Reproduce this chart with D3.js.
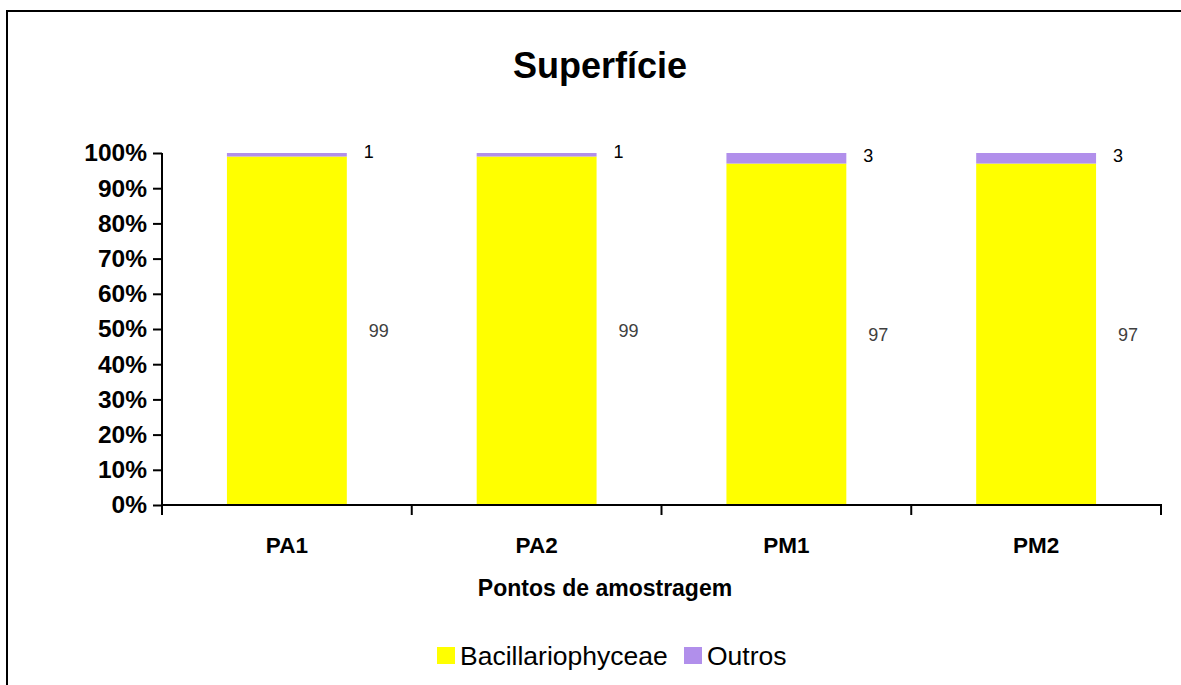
<!DOCTYPE html>
<html>
<head>
<meta charset="utf-8">
<script src="https://cdn.jsdelivr.net/npm/d3@7/dist/d3.min.js"></script>
<style>
  html, body { margin: 0; padding: 0; background: #fff; }
  svg { display: block; font-family: "Liberation Sans", Arial, sans-serif; }
</style>
</head>
<body>
<svg id="chart" width="1181" height="685"></svg>
<script>
// Sampling points and composition (%) at the surface
const pontos = ["PA1", "PA2", "PM1", "PM2"];
const bacillariophyceae = [99, 99, 97, 97];
const outros = [1, 1, 3, 3];
const grupos = ["Bacillariophyceae", "Outros"];
const cores = ["#ffff00", "#b18feb"];
const yTicks = [0, 0.1, 0.2, 0.3, 0.4, 0.5, 0.6, 0.7, 0.8, 0.9, 1.0];

const rows = pontos.map((p, i) => ({ ponto: p, Bacillariophyceae: bacillariophyceae[i], Outros: outros[i] }));

const svg = d3.select("#chart");
const W = 1181, H = 685;

// frame lines (top and left)
svg.append("line").attr("x1", 7).attr("x2", W).attr("y1", 11).attr("y2", 11)
  .attr("stroke", "#000").attr("stroke-width", 2);
svg.append("line").attr("x1", 7).attr("x2", 7).attr("y1", 10).attr("y2", H)
  .attr("stroke", "#000").attr("stroke-width", 2);

const plot = { left: 162, right: 1161, top: 153, bottom: 505 };

const x = d3.scaleBand().domain(pontos).range([plot.left, plot.right])
  .paddingInner(0.52).paddingOuter(0.26);
const y = d3.scaleLinear().domain([0, 1]).range([plot.bottom, plot.top]);
const color = d3.scaleOrdinal().domain(grupos).range(cores);

const series = d3.stack().keys(grupos).offset(d3.stackOffsetExpand)(rows);

// stacked bars
const g = svg.append("g");
g.selectAll("g.serie").data(series).join("g")
  .attr("class", "serie")
  .attr("fill", d => color(d.key))
  .selectAll("rect").data(d => d).join("rect")
  .attr("x", d => x(d.data.ponto))
  .attr("width", x.bandwidth())
  .attr("y", d => y(d[1]))
  .attr("height", d => y(d[0]) - y(d[1]));

// value labels beside each segment
series.forEach(s => {
  g.selectAll(null).data(s).join("text")
    .attr("x", d => x(d.data.ponto) + x.bandwidth() + (s.key === "Outros" ? 17 : 22))
    .attr("y", d => (y(d[0]) + y(d[1])) / 2 - (s.key === "Outros" ? 3 : 0))
    .attr("dy", "0.35em")
    .attr("font-size", 18)
    .attr("fill", s.key === "Outros" ? "#000" : "#404040")
    .text(d => d.data[s.key]);
});

// y axis
const yAxis = svg.append("g").attr("transform", `translate(${plot.left},0)`)
  .call(d3.axisLeft(y).tickValues(yTicks).tickFormat(d3.format(".0%")).tickSize(9).tickPadding(6));
yAxis.select(".domain").attr("stroke", "#000").attr("stroke-width", 2)
  .attr("d", `M0,${plot.top}V${plot.bottom + 10}`);
yAxis.selectAll(".tick line").attr("stroke", "#000").attr("stroke-width", 2);
yAxis.selectAll(".tick text").attr("font-size", 24.5).attr("font-weight", "bold")
  .attr("fill", "#000").attr("font-family", "Liberation Sans, Arial, sans-serif");

// x axis with ticks at category boundaries
const xAxis = svg.append("g").attr("transform", `translate(0,${plot.bottom})`);
xAxis.append("line").attr("x1", plot.left).attr("x2", plot.right + 1)
  .attr("stroke", "#000").attr("stroke-width", 2);
const bounds = pontos.map(p => x(p) - x.step() * x.paddingInner() / 2).concat([plot.right]);
bounds[0] = plot.left;
xAxis.selectAll("line.tk").data(bounds).join("line").attr("class", "tk")
  .attr("x1", d => d).attr("x2", d => d).attr("y1", 0).attr("y2", 10)
  .attr("stroke", "#000").attr("stroke-width", 2);
xAxis.selectAll("text").data(pontos).join("text")
  .attr("x", d => x(d) + x.bandwidth() / 2)
  .attr("y", 48)
  .attr("text-anchor", "middle")
  .attr("font-size", 22.5).attr("font-weight", "bold")
  .text(d => d);

// axis title
svg.append("text").attr("x", 605).attr("y", 596).attr("text-anchor", "middle")
  .attr("font-size", 23).attr("font-weight", "bold").text("Pontos de amostragem");

// chart title
svg.append("text").attr("x", 600).attr("y", 78).attr("text-anchor", "middle")
  .attr("font-size", 36).attr("font-weight", "bold").text("Superfície");

// legend
const legend = svg.append("g");
const legendItems = [{ key: "Bacillariophyceae", x: 437 }, { key: "Outros", x: 684 }];
legendItems.forEach(it => {
  legend.append("rect").attr("x", it.x).attr("y", 647).attr("width", 18).attr("height", 17)
    .attr("fill", color(it.key));
  legend.append("text").attr("x", it.x + 23).attr("y", 665)
    .attr("font-size", 26.5).text(it.key);
});
</script>
</body>
</html>
